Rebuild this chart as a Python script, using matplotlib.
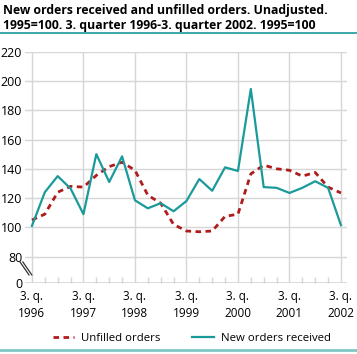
import matplotlib
matplotlib.use("Agg")
import matplotlib.pyplot as plt
from matplotlib.lines import Line2D

# data: 3rd quarter 1996 .. 3rd quarter 2002, 1995=100
quarters = list(range(25))
year_labels = ["3. q.\n1996", "3. q.\n1997", "3. q.\n1998", "3. q.\n1999",
               "3. q.\n2000", "3. q.\n2001", "3. q.\n2002"]
new_orders = [101, 124, 135, 126.5, 109, 150, 131, 148.5, 118.5, 113, 116.5, 111,
              118, 133, 125, 141, 138.5, 194.5, 127.5, 127, 123.5, 127, 131.5, 127, 101.5]
unfilled = [105, 109, 124, 128, 127.5, 135.5, 141.5, 144.5, 139, 122, 116.5, 102,
            97.5, 97, 97.5, 107.5, 109, 136.5, 142.5, 140, 139, 135, 137.5, 127.5, 123.5]
y_ticks = [80, 100, 120, 140, 160, 180, 200, 220]

TEAL = "#1a9a9a"
RED = "#b01c1c"
GRID = "#d6d6d6"
ZERO_POS = 62  # where "0" sits on the broken axis

plt.rcParams["font.family"] = ["Open Sans", "DejaVu Sans"]

fig = plt.figure(figsize=(3.57, 3.54), dpi=100)
ax = fig.add_axes([0.070, 0.2006, 0.902, 0.6534])

ax.plot(quarters, unfilled, color=RED, lw=2, ls=(0, (2, 1.6)), label="Unfilled orders", zorder=3)
ax.plot(quarters, new_orders, color=TEAL, lw=1.6, label="New orders received", zorder=4)

ax.set_xlim(-0.54, 24.47)
ax.set_ylim(ZERO_POS, 220)

# grid
for v in y_ticks:
    ax.axhline(v, color=GRID, lw=1, zorder=1)
ax.axhline(ZERO_POS, color=GRID, lw=1.2, zorder=1)
for q in range(0, 25, 4):
    ax.axvline(q, color=GRID, lw=1, zorder=1)

for s in ax.spines.values():
    s.set_visible(False)

ax.set_yticks([ZERO_POS] + y_ticks)
ax.set_yticklabels(["0"] + [str(v) for v in y_ticks])
ax.set_xticks(list(range(0, 25, 4)))
ax.set_xticklabels(year_labels, linespacing=1.45)
ax.set_xticks(quarters, minor=True)
ax.tick_params(axis="y", length=0, pad=2, labelsize=9)
ax.tick_params(axis="x", which="major", length=0, pad=5, labelsize=8.5)
ax.tick_params(axis="x", which="minor", direction="in", length=4, color=GRID, width=1)

# axis break marks
for dx in (0, 0.22):
    ax.add_line(Line2D([-0.93 + dx, -0.23 + dx], [76.4, 67.5], color="#333333", lw=0.9,
                       clip_on=False))

# title
fig.text(0.008, 0.99, "New orders received and unfilled orders. Unadjusted.\n"
         "1995=100. 3. quarter 1996-3. quarter 2002. 1995=100",
         ha="left", va="top", fontsize=8.8, fontweight="bold", linespacing=1.2)
fig.add_artist(Line2D([0.0, 1.0], [0.906, 0.906], color=TEAL, lw=1.2))
fig.add_artist(Line2D([0.0, 1.0], [0.011, 0.011], color="#80c8c8", lw=2))

fig.legend(loc="center", bbox_to_anchor=(0.537, 0.043), ncol=2, frameon=False,
           fontsize=8.2, handlelength=1.9, columnspacing=2.8, handletextpad=0.6)

fig.savefig("out.png", dpi=100)
